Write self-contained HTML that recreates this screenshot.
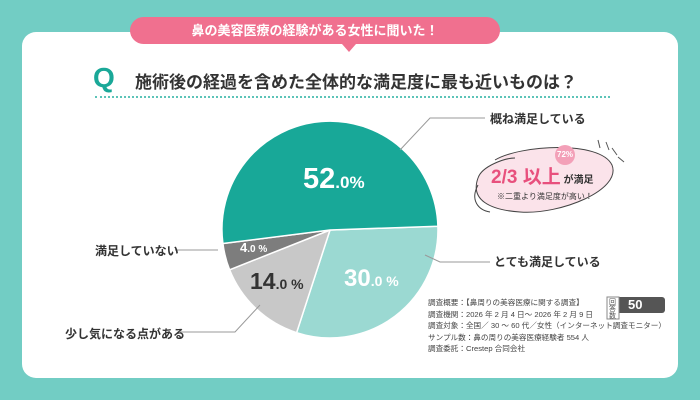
<!DOCTYPE html><html><head><meta charset="utf-8"><style>
body{margin:0;width:700px;height:400px;background:#72cdc4;font-family:"Liberation Sans","Noto Sans CJK JP",sans-serif;position:relative;overflow:hidden}
.card{position:absolute;left:22px;top:32px;width:656px;height:346px;background:#fff;border-radius:14px}
.ban{position:absolute;left:130px;top:17px;width:370px;height:27px;background:#f0708f;border-radius:14px;color:#fff;font-size:13px;font-weight:bold;text-align:center;line-height:27px}
.ban:after{content:"";position:absolute;left:212px;bottom:-8px;border:7px solid transparent;border-top:8px solid #f0708f;border-bottom:0}
.t{position:absolute;white-space:nowrap;color:#333}
</style></head><body>
<div class="card"></div>
<div class="ban">鼻の美容医療の経験がある女性に聞いた！</div>
<div class="t" style="left:93px;top:62px;font-size:28px;font-weight:bold;color:#1aa898">Q</div>
<div class="t" style="left:135px;top:68px;font-size:17px;font-weight:bold">施術後の経過を含めた全体的な満足度に最も近いものは？</div>
<div style="position:absolute;left:95px;top:96px;width:515px;border-top:2px dotted #5cc4b8"></div>
<svg width="700" height="400" style="position:absolute;left:0;top:0">
<g stroke="#fff" stroke-width="1.5">
<path d="M330,230 L437.9,226.2 A108,108 0 0 1 296.6,332.7Z" fill="#9bd9d2"/>
<path d="M330,230 L296.6,332.7 A108,108 0 0 1 229.6,269.8Z" fill="#c8c8c8"/>
<path d="M330,230 L229.6,269.8 A108,108 0 0 1 222.9,243.5Z" fill="#7d7d7d"/>
<path d="M330,230 L222.9,243.5 A108,108 0 1 1 437.9,226.2Z" fill="#18a898"/>
</g>
<g stroke="#999" fill="none" stroke-width="1">
<polyline points="400,150 430,118 485,118"/>
<polyline points="425,255 440,262 490,262"/>
<line x1="218" y1="250" x2="175" y2="250"/>
<polyline points="260,305 235,332 180,332"/>
</g>
<path d="M495,160 C520,145 600,140 612,165 C622,190 560,215 520,212 C490,210 470,200 478,178 C482,166 505,158 515,158" fill="#fbe3ea" stroke="#444" stroke-width="1"/>
<path d="M478,185 C470,200 478,210 490,212" fill="none" stroke="#444"/>
<g stroke="#555"><line x1="598" y1="140" x2="600" y2="148"/><line x1="606" y1="142" x2="609" y2="150"/><line x1="612" y1="148" x2="617" y2="155"/><line x1="618" y1="157" x2="624" y2="162"/></g>
<circle cx="565" cy="155" r="10" fill="#f3a0b8"/>
<rect x="607" y="297" width="58" height="16" rx="3" fill="#555"/>
<rect x="607" y="297" width="12" height="22" fill="#fff" stroke="#888"/>
</svg>
<div class="t" style="left:303px;top:163px;font-size:29px;font-weight:bold;color:#fff">52<span style="font-size:17px">.0%</span></div>
<div class="t" style="left:344px;top:265px;font-size:24px;font-weight:bold;color:#fff">30<span style="font-size:14px">.0 %</span></div>
<div class="t" style="left:250px;top:268px;font-size:23px;font-weight:bold;color:#333">14<span style="font-size:14px">.0 %</span></div>
<div class="t" style="left:240px;top:240px;font-size:13px;font-weight:bold;color:#fff">4<span style="font-size:10px">.0 %</span></div>
<div class="t" style="left:490px;top:110px;font-size:12px;font-weight:bold">概ね満足している</div>
<div class="t" style="left:494px;top:253px;font-size:12px;font-weight:bold">とても満足している</div>
<div class="t" style="left:95px;top:242px;font-size:12px;font-weight:bold">満足していない</div>
<div class="t" style="left:65px;top:325px;font-size:12px;font-weight:bold">少し気になる点がある</div>
<div class="t" style="left:557px;top:150px;font-size:8px;font-weight:bold;color:#fff">72%</div>
<div class="t" style="left:491px;top:162px;font-size:19px;font-weight:bold;color:#e8507d">2/3 以上<span style="font-size:10px;color:#333"> が満足</span></div>
<div class="t" style="left:497px;top:191px;font-size:8px;color:#333">※二重より満足度が高い！</div>
<div class="t" style="left:609px;top:299px;font-size:7px;color:#555;line-height:7px">回<br>答<br>数</div>
<div class="t" style="left:628px;top:297px;font-size:13px;font-weight:bold;color:#fff">50</div>
<div class="t" style="left:428px;top:297px;font-size:7.6px;line-height:11.5px;color:#444">調査概要：【鼻周りの美容医療に関する調査】<br>調査機関：2026 年 2 月 4 日～ 2026 年 2 月 9 日<br>調査対象：全国／ 30 ～ 60 代／女性（インターネット調査モニター）<br>サンプル数：鼻の周りの美容医療経験者 554 人<br>調査委託：Crestep 合同会社</div>
</body></html>
